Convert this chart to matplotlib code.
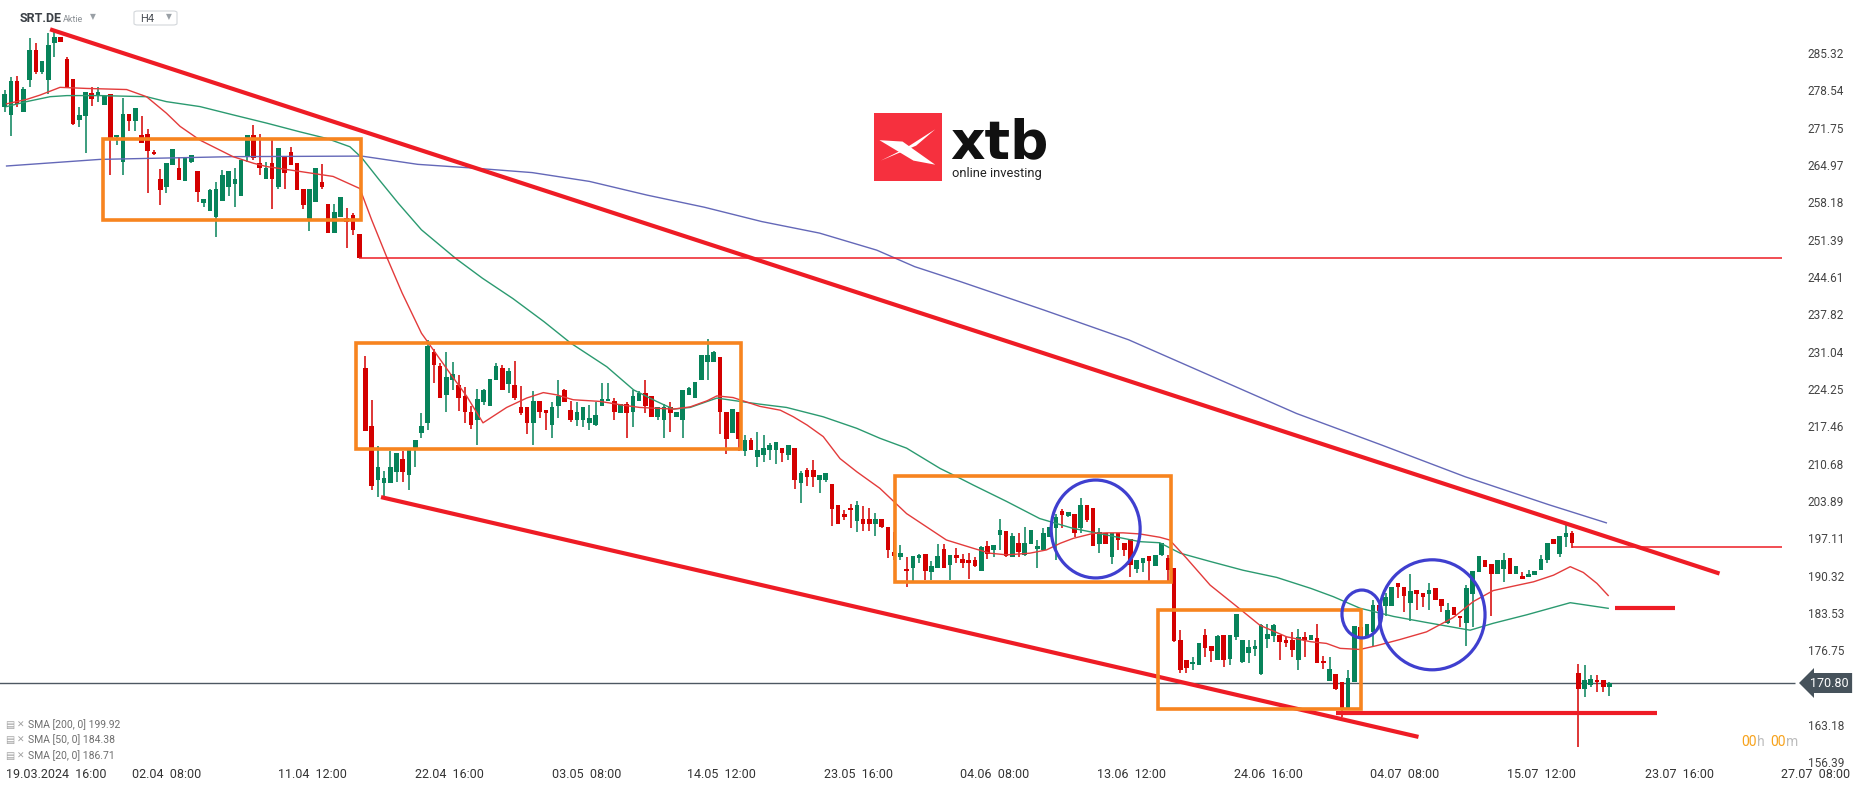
import numpy as np
import matplotlib
matplotlib.use("Agg")
import matplotlib.pyplot as plt
from matplotlib.patches import Rectangle, Ellipse, Polygon, FancyBboxPatch

plt.rcParams['font.family'] = ['Roboto', 'DejaVu Sans']

# SRT.DE, H4 candles
opens = [275.6, 274.0, 280.3, 274.7, 280.4, 285.9, 281.9, 280.4, 287.1, 288.2,
         284.3, 280.7, 273.1, 273.9, 278.0, 277.5, 275.9, 277.8, 270.0, 265.6,
         274.3, 273.0, 270.4, 270.7, 267.3, 262.4, 261.0, 265.0, 264.5, 262.1,
         265.5, 263.9, 258.1, 256.7, 255.5, 258.4, 261.0, 261.6, 259.4, 266.5,
         270.4, 265.3, 262.4, 265.3, 261.0, 266.5, 267.3, 265.3, 260.7, 255.2,
         258.2, 261.8, 257.9, 252.7, 255.6, 255.3, 255.9, 252.4, 228.1, 217.5,
         207.7, 207.2, 207.2, 209.2, 211.5, 208.6, 213.5, 216.3, 218.1, 230.9,
         228.4, 223.2, 225.8, 225.0, 223.0, 220.1, 218.7, 221.8, 221.2, 225.8,
         228.1, 225.2, 225.0, 220.9, 220.9, 218.1, 222.1, 220.4, 217.7, 221.2,
         224.1, 220.4, 218.7, 218.7, 218.1, 217.7, 221.2, 222.0, 222.1, 219.8,
         221.5, 220.1, 222.1, 223.6, 223.0, 219.1, 218.6, 220.9, 219.1, 218.6,
         223.2, 222.7, 225.8, 229.2, 229.2, 230.1, 220.1, 216.3, 220.1, 212.9,
         215.0, 211.8, 212.3, 213.2, 213.2, 213.6, 212.3, 213.6, 207.2, 209.5,
         209.5, 207.7, 207.7, 207.0, 203.2, 201.5, 202.7, 200.3, 200.6, 200.6,
         199.7, 200.6, 199.2, 194.7, 193.8, 191.6, 191.8, 193.5, 194.2, 191.0,
         191.8, 195.2, 192.3, 194.1, 193.3, 193.2, 193.2, 191.2, 195.7, 194.9,
         197.7, 198.4, 193.8, 196.2, 194.1, 196.1, 195.1, 195.0, 197.4, 198.9,
         202.1, 201.2, 201.5, 199.0, 203.2, 202.7, 196.0, 198.0, 193.8, 198.0,
         196.2, 196.9, 191.6, 192.7, 193.9, 192.1, 194.1, 193.5, 191.65, 178.7,
         175.0, 174.2, 174.0, 179.6, 177.5, 175.0, 179.5, 175.2, 179.2, 174.6,
         176.3, 177.0, 172.4, 178.8, 179.4, 179.5, 178.6, 178.7, 175.0, 179.2,
         178.6, 178.9, 174.8, 171.2, 172.4, 170.9, 166.2, 170.9, 181.0, 179.2,
         180.1, 184.9, 184.8, 184.8, 188.9, 188.3, 185.4, 187.7, 187.1, 186.9,
         188.0, 186.0, 181.8, 184.6, 183.0, 181.8, 187.0, 190.9, 193.2, 192.4,
         190.6, 191.5, 193.5, 190.7, 190.25, 190.0, 190.4, 191.35, 193.2, 196.9,
         194.2, 197.4, 198.0, 172.6, 169.8, 170.4, 171.3, 171.3, 170.1]
highs = [278.6, 281.0, 281.2, 279.2, 288.1, 287.1, 283.9, 288.9, 289.5, 288.2,
         284.7, 280.7, 275.6, 278.2, 279.1, 279.1, 277.5, 277.8, 270.4, 277.1,
         274.3, 275.3, 273.8, 271.6, 267.7, 264.2, 265.3, 267.9, 266.5, 266.5,
         266.8, 263.9, 258.8, 260.7, 261.9, 264.1, 263.9, 264.4, 265.9, 270.4,
         272.2, 270.7, 265.6, 269.5, 268.0, 266.5, 268.3, 265.3, 260.7, 260.7,
         264.4, 265.1, 257.9, 257.9, 259.2, 257.1, 256.2, 252.4, 230.3, 222.3,
         213.9, 209.4, 212.9, 212.7, 212.9, 213.2, 215.0, 219.8, 233.2, 231.5,
         228.9, 230.9, 229.2, 226.8, 224.7, 221.2, 224.3, 224.2, 226.1, 228.9,
         228.7, 228.0, 229.3, 224.8, 220.9, 223.8, 222.1, 220.4, 221.9, 225.9,
         224.2, 222.1, 221.9, 220.9, 221.3, 221.9, 225.3, 225.3, 222.6, 221.5,
         221.9, 224.1, 223.8, 225.9, 223.0, 220.9, 221.5, 221.9, 220.1, 224.1,
         224.7, 225.6, 230.4, 233.3, 231.2, 230.1, 220.1, 220.6, 220.1, 215.9,
         215.3, 216.4, 215.9, 214.4, 214.7, 213.6, 214.1, 213.6, 209.4, 209.8,
         211.3, 208.6, 209.0, 207.0, 203.2, 202.3, 203.3, 203.9, 203.0, 202.6,
         201.8, 200.6, 199.2, 198.3, 195.9, 193.8, 193.9, 194.2, 194.2, 193.0,
         196.0, 196.0, 194.1, 195.3, 194.2, 194.4, 193.8, 195.8, 196.7, 195.9,
         200.55, 198.4, 198.0, 198.1, 199.1, 198.6, 196.8, 198.9, 199.1, 201.6,
         202.4, 201.9, 201.5, 204.4, 203.2, 202.7, 198.9, 198.0, 198.0, 198.0,
         196.2, 196.9, 193.2, 193.6, 193.9, 194.1, 196.2, 194.1, 191.65, 180.4,
         175.0, 175.6, 178.0, 180.7, 177.5, 179.5, 179.5, 179.5, 183.3, 178.6,
         178.7, 178.6, 181.6, 181.6, 181.6, 179.5, 179.2, 180.0, 180.7, 180.1,
         179.5, 181.6, 175.7, 175.6, 172.4, 170.9, 173.2, 181.2, 181.0, 181.6,
         185.9, 184.9, 187.1, 188.2, 188.9, 188.3, 190.6, 187.7, 187.1, 189.0,
         188.0, 186.0, 185.3, 184.6, 183.0, 188.6, 191.2, 193.9, 193.2, 192.4,
         193.2, 194.4, 193.5, 192.1, 190.9, 191.35, 191.2, 194.1, 196.2, 196.9,
         197.5, 199.5, 198.4, 174.2, 174.1, 172.25, 172.25, 171.3, 170.9]
lows = [274.7, 270.3, 275.6, 274.7, 279.2, 281.6, 281.6, 277.8, 284.7, 287.3,
        278.9, 272.3, 271.8, 267.2, 275.7, 276.5, 275.9, 263.2, 268.6, 263.2,
        271.2, 271.2, 268.9, 259.8, 266.8, 257.7, 259.8, 264.9, 262.3, 262.1,
        265.3, 258.3, 257.4, 256.7, 251.8, 258.4, 259.4, 257.4, 259.4, 265.6,
        265.9, 263.2, 262.4, 256.9, 260.7, 260.6, 265.0, 260.4, 256.9, 252.9,
        258.2, 260.7, 252.7, 252.7, 255.6, 249.8, 252.3, 248.1, 216.7, 205.9,
        204.7, 204.7, 207.2, 207.4, 207.4, 205.9, 210.0, 215.3, 216.8, 225.4,
        222.7, 220.0, 224.1, 220.3, 218.0, 216.9, 214.0, 221.3, 221.2, 225.8,
        224.1, 223.5, 222.3, 219.5, 216.0, 214.0, 218.9, 216.8, 215.4, 218.9,
        221.8, 218.3, 217.5, 217.4, 216.8, 217.6, 221.2, 222.0, 218.7, 219.8,
        215.4, 217.4, 222.1, 219.8, 219.2, 218.6, 215.4, 216.5, 219.1, 215.4,
        223.2, 222.7, 225.8, 225.9, 229.2, 216.0, 212.4, 216.3, 212.9, 212.0,
        213.2, 210.0, 210.9, 211.3, 210.6, 210.9, 211.3, 206.0, 203.5, 206.6,
        206.5, 205.4, 207.4, 199.3, 199.8, 200.4, 198.9, 198.3, 198.5, 198.5,
        197.6, 198.9, 193.5, 193.2, 193.2, 188.2, 189.4, 192.55, 189.5, 189.5,
        191.8, 191.8, 189.5, 192.55, 191.8, 189.8, 191.9, 191.2, 193.3, 193.8,
        195.0, 193.8, 193.7, 193.8, 193.9, 196.1, 191.8, 195.0, 197.4, 193.2,
        198.9, 201.0, 197.4, 198.0, 200.1, 195.8, 194.4, 196.1, 192.4, 195.0,
        193.9, 190.1, 190.8, 191.0, 189.2, 192.1, 193.9, 189.2, 178.3, 172.6,
        172.6, 173.2, 174.0, 175.6, 174.7, 175.0, 173.8, 174.1, 178.7, 174.4,
        174.4, 175.7, 172.25, 177.1, 178.3, 174.9, 177.4, 175.6, 173.2, 175.5,
        178.6, 174.4, 173.3, 171.2, 169.6, 164.7, 166.2, 170.9, 179.1, 179.2,
        177.4, 183.2, 182.9, 184.8, 186.2, 183.8, 182.1, 184.1, 184.7, 184.1,
        185.9, 183.8, 181.6, 183.2, 180.9, 177.5, 180.9, 190.9, 191.95, 183.0,
        190.6, 189.2, 190.6, 190.7, 189.8, 190.0, 190.4, 191.35, 192.55, 196.1,
        193.8, 195.6, 195.4, 159.2, 168.3, 170.1, 169.2, 169.2, 168.4]
closes = [277.8, 280.3, 276.0, 278.8, 285.9, 281.8, 283.9, 286.8, 288.3, 287.3,
          279.1, 272.4, 274.0, 278.2, 276.9, 278.2, 277.5, 269.8, 270.4, 274.3,
          273.0, 275.3, 269.0, 267.6, 266.9, 260.4, 265.3, 267.9, 262.3, 266.5,
          266.8, 260.1, 258.8, 260.4, 260.7, 263.2, 263.9, 262.4, 265.9, 270.4,
          266.2, 264.4, 264.4, 262.4, 268.0, 263.6, 265.0, 260.4, 257.7, 260.7,
          264.4, 261.0, 252.7, 256.5, 259.2, 254.7, 253.2, 248.1, 216.7, 206.7,
          210.1, 208.1, 210.1, 212.7, 209.2, 213.2, 215.0, 217.5, 232.0, 228.6,
          222.7, 226.5, 226.9, 222.7, 220.1, 217.7, 222.4, 224.1, 226.1, 228.4,
          224.1, 227.6, 222.6, 219.8, 218.1, 222.1, 220.1, 219.8, 221.0, 223.0,
          221.8, 218.6, 220.1, 220.9, 219.0, 219.5, 222.4, 222.4, 220.1, 221.5,
          219.8, 223.0, 223.6, 221.2, 219.2, 220.9, 220.9, 219.8, 220.1, 224.1,
          224.5, 225.6, 230.4, 230.4, 230.9, 220.1, 215.2, 220.6, 215.2, 215.0,
          213.2, 213.2, 213.6, 214.1, 214.7, 212.7, 214.1, 207.7, 209.0, 208.3,
          208.3, 208.6, 209.0, 202.4, 199.8, 200.9, 202.3, 203.2, 199.7, 199.7,
          200.6, 199.1, 195.0, 193.9, 194.4, 191.2, 193.9, 194.1, 191.2, 192.1,
          193.9, 191.8, 194.1, 193.6, 192.7, 192.55, 192.1, 195.6, 194.2, 195.9,
          198.6, 193.9, 197.5, 194.7, 196.2, 198.6, 195.7, 198.0, 199.1, 201.0,
          201.3, 201.9, 198.1, 203.2, 200.4, 195.8, 198.3, 196.1, 198.0, 196.8,
          194.9, 192.3, 193.2, 193.6, 192.9, 194.1, 196.2, 191.3, 178.4, 173.2,
          173.6, 174.6, 178.0, 177.2, 176.7, 179.3, 175.0, 179.5, 183.3, 178.6,
          177.4, 177.5, 181.3, 179.7, 181.3, 178.3, 178.1, 176.8, 179.2, 178.7,
          179.5, 174.5, 174.4, 173.3, 169.8, 166.2, 171.8, 181.2, 179.2, 181.6,
          184.9, 183.95, 186.5, 188.2, 188.2, 186.6, 187.6, 187.0, 186.5, 187.8,
          185.9, 184.8, 184.1, 183.2, 182.6, 188.0, 191.2, 193.9, 191.95, 190.6,
          193.2, 193.2, 190.7, 192.1, 189.8, 190.7, 191.2, 193.3, 196.2, 196.1,
          197.5, 198.0, 196.2, 169.8, 171.3, 171.5, 170.9, 170.1, 170.8]

# moving averages, read at points along the lines (candle position, value)
sma20_x = [0.3, 3.5, 5.7, 8.9, 13.2, 19.6, 22.8, 26, 28.2, 31.4, 36.7, 40, 42.1, 47.5, 52.8,
           57.1, 59, 61.4, 63.9, 67, 71.6, 74.3, 76.9, 80.7, 83.9, 86.6, 88.7, 91.4, 95.7,
           99.5, 102.1, 107.5, 110.2, 112.9, 114.5, 117.1, 121.4, 124.7, 126.8, 129, 131.6,
           134.3, 137, 140.7, 145, 148.2, 151.4, 155.7, 158.4, 161.1, 164.8, 167.5, 169.7,
           171.8, 175, 177.2, 179.8, 182.5, 185.7, 187.3, 190, 193.8, 198.1, 201.8, 206.1,
           210, 212.5, 214.7, 217.9, 220.6, 224.3, 228.6, 232.9, 236.1, 239.3, 242.5, 245.8,
           249, 251.7, 253.8, 256, 257.8]
sma20_y = [276.1, 276.9, 277.7, 279.1, 278.9, 278.7, 277.4, 274.4, 272.0, 269.5, 266.5, 265.3,
           264.7, 263.8, 262.9, 260.7, 255.0, 248.3, 241.7, 234.4, 227.1, 222.9, 218.1, 220.9,
           222.6, 223.6, 223.2, 222.3, 222.0, 221.3, 220.9, 220.6, 221.0, 222.1, 223.0, 222.7,
           221.1, 220.4, 219.2, 217.7, 215.6, 211.6, 209.2, 206.2, 201.6, 199.2, 196.8, 195.3,
           194.4, 194.1, 194.4, 195.0, 196.2, 197.1, 198.0, 198.1, 198.1, 197.9, 197.3, 196.8,
           193.5, 188.6, 184.7, 181.3, 179.2, 178.3, 178.0, 177.1, 176.9, 177.6, 178.7, 180.1,
           182.7, 185.6, 187.6, 188.4, 189.2, 190.4, 191.95, 190.9, 188.9, 186.71]
sma50_x = [0.3, 3.5, 7.3, 10, 15.3, 22.8, 26, 31.4, 36.7, 42.1, 47.5, 51.8, 55.5, 57.4, 60.2,
           63.3, 67, 72.5, 76.8, 81.7, 86.7, 91, 96.8, 101.1, 104.8, 107.5, 110.2, 114.5, 118.2,
           121.4, 125.7, 131.6, 137, 140.7, 145, 150.4, 153.1, 155.7, 161.1, 166.4, 171.8,
           177.2, 182.5, 185.7, 189, 193.8, 199.1, 204.5, 210, 213.6, 217.9, 223.3, 228.6,
           235.6, 239.3, 244.7, 251.7, 257.8]
sma50_y = [275.6, 276.5, 277.4, 277.6, 277.6, 277.4, 276.5, 275.6, 274.1, 272.6, 271.0, 269.8,
           268.3, 266.3, 262.3, 258.0, 253.2, 248.0, 244.4, 240.7, 236.5, 232.6, 228.3, 224.1,
           222.0, 220.6, 220.9, 222.6, 222.0, 221.5, 220.9, 219.2, 217.1, 215.3, 213.5, 209.8,
           208.3, 206.8, 203.8, 200.7, 198.9, 197.7, 196.5, 196.3, 194.4, 192.9, 191.3, 190.0,
           188.0, 186.5, 184.4, 182.9, 181.8, 180.4, 181.65, 183.2, 185.4, 184.38]
sma200_x = [0.3, 15.3, 36.7, 57.4, 66.4, 75.6, 84.8, 94, 103.3, 112.5, 121.7, 131, 140.2,
            146.3, 153.6, 167.1, 180.7, 194.2, 207.7, 221.3, 234.8, 248.3, 257.5]
sma200_y = [264.8, 266.0, 266.5, 266.6, 265.1, 264.4, 263.6, 262.0, 259.5, 257.3, 254.7, 252.6,
            249.5, 246.5, 243.8, 238.6, 233.2, 226.5, 219.8, 214.1, 208.3, 203.2, 199.92]

# 169.96 sits under the price tag, so it is not listed
price_ticks = [156.39, 163.18, 176.75, 183.53, 190.32, 197.11, 203.89, 210.68, 217.46,
               224.25, 231.04, 237.82, 244.61, 251.39, 258.18, 264.97, 271.75, 278.54, 285.32]
date_pos = [0.2, 26, 49.5, 71.5, 93.5, 115.3, 137.3, 159.2, 181.2, 203.1, 225.1, 247.1, 269.2, 291.1]
date_labels = ["19.03.2024  16:00", "02.04  08:00", "11.04  12:00", "22.04  16:00",
               "03.05  08:00", "14.05  12:00", "23.05  16:00", "04.06  08:00",
               "13.06  12:00", "24.06  16:00", "04.07  08:00", "15.07  12:00",
               "23.07  16:00", "27.07  08:00"]
last_price = 170.80

# drawings on the chart
upper_trend = ([7.3, 275.7], [289.65, 190.7])
lower_trend = ([60.5, 227.3], [204.6, 161.0])
# (left, right, bottom, top)
boxes = [(15.8, 57.3, 255.0, 269.7),
         (56.5, 118.4, 213.3, 232.6),
         (143.1, 187.5, 189.2, 208.4),
         (185.4, 218.1, 166.1, 184.1)]
# (centre x, centre y, width, height)
circles = [(175.4, 198.8, 14.3, 17.8),
           (218.2, 183.35, 6.4, 8.7),
           (229.5, 183.2, 17.0, 20.0)]
thin_levels = [(248.1, 57, 285.7), (195.5, 252, 285.7)]
thick_levels = [(165.3, 214.0, 265.6), (184.4, 258.9, 268.6)]

GREEN = '#07835a'
RED = '#d40000'
W, H = 1866, 787

fig = plt.figure(figsize=(W / 100, H / 100), dpi=100)
fig.patch.set_facecolor('white')
ax = fig.add_axes([0, 21 / H, 1, 766 / H])
ax.set_xlim(-0.756, 299.25)
ax.set_ylim(155.71, 294.98)
for s in ax.spines.values():
    s.set_visible(False)

o = np.array(opens)
c = np.array(closes)
hi = np.array(highs)
lo = np.array(lows)
idx = np.arange(len(c))
col = np.where(c >= o, GREEN, RED)
ax.vlines(idx, lo, hi, colors=col, lw=1.1, zorder=3)
body_lo = np.minimum(o, c)
body_h = np.maximum(np.abs(c - o), 0.2)
ax.bar(idx, body_h, bottom=body_lo, width=0.74, color=col, linewidth=0, zorder=4)

ax.plot(sma200_x, sma200_y, color='#6468b8', lw=1.0, zorder=5)
ax.plot(sma50_x, sma50_y, color='#2b9a70', lw=1.0, zorder=5)
ax.plot(sma20_x, sma20_y, color='#e33b3b', lw=1.0, zorder=5)

ax.hlines(last_price, -1, 287.8, color='#4d5862', lw=1.0, zorder=2)

ax.plot(*upper_trend, color='#ee1c25', lw=3.0, solid_capstyle='butt', zorder=6)
ax.plot(*lower_trend, color='#ee1c25', lw=3.0, solid_capstyle='butt', zorder=6)
for y, x1, x2 in thin_levels:
    ax.hlines(y, x1, x2, color='#ee1c25', lw=1.1, zorder=6)
for y, x1, x2 in thick_levels:
    ax.hlines(y, x1, x2, color='#ee1c25', lw=3.0, zorder=6)

for x1, x2, y1, y2 in boxes:
    ax.add_patch(Rectangle((x1, y1), x2 - x1, y2 - y1, fill=False,
                           ec='#f7841f', lw=2.6, zorder=7))
for cx, cy, w, h in circles:
    ax.add_patch(Ellipse((cx, cy), w, h, fill=False, ec='#3f3fcf', lw=2.3, zorder=7))

# axes
ax.yaxis.tick_right()
ax.set_yticks(price_ticks)
ax.set_yticklabels([f"{v:.2f}" for v in price_ticks])
ax.tick_params(axis='y', length=0, pad=-42, labelsize=8.5, labelcolor='#444444')
ax.set_xticks(date_pos)
ax.set_xticklabels(date_labels)
ax.tick_params(axis='x', length=0, pad=1.5, labelsize=9, labelcolor='#333333')
ax.get_xticklabels()[0].set_ha('left')

# price tag
tr = ax.get_yaxis_transform()
ax.text(1810 / W, last_price, f"{last_price:.2f}", transform=tr, color='white',
        fontsize=9, va='center', ha='left', zorder=20, clip_on=False,
        bbox=dict(boxstyle='larrow,pad=0.28', fc='#46525b', ec='none'))


def fx(px):
    return px / W


def fy(py):
    return 1 - py / H


# header
fig.text(fx(20), fy(19), "SRT.DE", fontsize=9, fontweight='bold', color='#3b4046', va='center')
fig.text(fx(63), fy(19), "Aktie", fontsize=6.5, color='#8a8f94', va='center')
fig.text(fx(90), fy(17), "\u25BC", fontsize=5.5, color='#9aa0a6', va='center',
         family=['DejaVu Sans'])
fig.patches.append(FancyBboxPatch((fx(134), fy(25)), fx(43), 14 / H,
                                  boxstyle='round,pad=0,rounding_size=0.002',
                                  ec='#d3d7db', fc='white', lw=0.8,
                                  transform=fig.transFigure, figure=fig))
fig.text(fx(140), fy(19), "H4", fontsize=8, color='#4a4f55', va='center')
fig.text(fx(166), fy(17), "\u25BC", fontsize=5.5, color='#9aa0a6', va='center',
         family=['DejaVu Sans'])

# logo
lx, ly, ls = 874, 113, 68
fig.patches.append(Rectangle((fx(lx), fy(ly + ls)), fx(ls), ls / H, fc='#f6303e',
                             ec='none', transform=fig.transFigure, figure=fig))
wing_a = [(0.08, 0.40), (0.42, 0.42), (0.90, 0.76), (0.58, 0.70)]
wing_b = [(0.10, 0.70), (0.46, 0.52), (0.90, 0.24), (0.62, 0.48)]
for shape in (wing_a, wing_b):
    pts = [(fx(lx + u * ls), fy(ly + v * ls)) for u, v in shape]
    fig.patches.append(Polygon(pts, closed=True, fc='white', ec='none',
                               transform=fig.transFigure, figure=fig))
fig.text(fx(950), fy(158), "xtb", fontsize=38.5, fontweight='bold', color='#111111',
         va='baseline', family=['DejaVu Sans'])
fig.text(fx(952), fy(173), "online investing", fontsize=9.3, color='#222222', va='center')

# countdown
fig.text(fx(1741), fy(742), "00", fontsize=10, color='#f7a21b', va='center')
fig.text(fx(1757), fy(742), "h", fontsize=10, color='#bdbdbd', va='center')
fig.text(fx(1770), fy(742), "00", fontsize=10, color='#f7a21b', va='center')
fig.text(fx(1786), fy(742), "m", fontsize=10, color='#bdbdbd', va='center')

# indicator legend
legend_rows = [("SMA [200, 0] 199.92", 725), ("SMA [50, 0] 184.38", 740),
               ("SMA [20, 0] 186.71", 756)]
for label, py in legend_rows:
    fig.text(fx(5), fy(py), "\u25A4", fontsize=7, color='#a0a0a0', va='center',
             family=['DejaVu Sans'])
    fig.text(fx(17), fy(py), "\u2715", fontsize=6.5, color='#a0a0a0', va='center',
             family=['DejaVu Sans'])
    fig.text(fx(28), fy(py), label, fontsize=7.5, color='#6f6f6f', va='center')

fig.savefig("out.png", dpi=100, facecolor='white')
